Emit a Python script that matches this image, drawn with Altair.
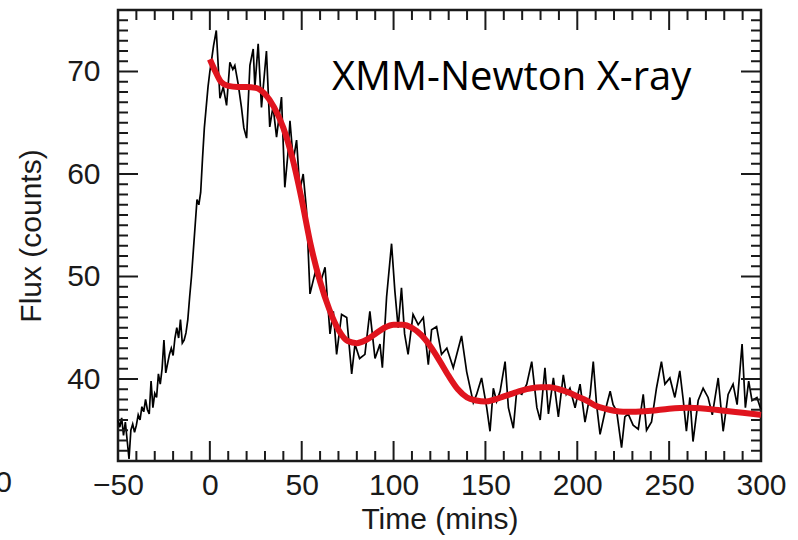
import altair as alt
import pandas as pd

# ---------------- data ----------------
time_obs = [-50, -49, -48, -47, -46, -45, -44, -43, -42, -41, -40, -39, -38, -37, -36, -35,
            -34, -33, -32, -31, -30, -29, -28, -27, -26, -25, -24, -23, -22, -21, -20, -19,
            -18, -17, -16, -15, -14, -13, -12, -11, -10, -9, -8, -7, -6, -5, -4, -3, -2, -1,
            0, 1, 2, 3.5, 5.5, 7.3, 9.1, 10.9, 12.5, 13.6, 15.4, 17.2, 18.5, 20, 21.8, 23.6,
            24.5, 26.3, 28.1, 30.8, 32.6, 34.4, 36.3, 39, 40.8, 42.5, 43.6, 45.4, 47.2, 49,
            50.8, 52.6, 54.5, 57.2, 60, 62.7, 65.4, 67.2, 69, 71.7, 74.5, 77.2, 79, 81.5,
            84.4, 87.1, 89.9, 92.6, 93.9, 96.2, 98.9, 100.7, 102.5, 104.3, 106, 107.9, 110.6,
            113.4, 116.2, 118.9, 120.7, 123.4, 126.1, 129, 132.5, 137, 139.8, 143.4, 145.2,
            147.9, 150.7, 152.5, 154.3, 156.1, 158, 160.7, 162.5, 165.2, 167, 169.8, 172.5,
            175.2, 178, 179.8, 182.4, 184.3, 187, 189.7, 192.4, 194, 196, 198.8, 201.5, 204.2,
            207, 208.7, 210.5, 212.4, 215.2, 217.9, 219.5, 221.4, 224.1, 225.9, 227.7, 230.4,
            233.2, 235.9, 237.7, 240.4, 243.1, 245.8, 247.7, 250.4, 253.1, 255.8, 257.7, 259.4,
            261.3, 263, 265.8, 268.5, 271.2, 273.5, 276.7, 279.4, 282.1, 284.8, 287, 289.7,
            291.5, 293.3, 295.1, 297.8, 300]
flux_obs = [36.0, 35.3, 36.2, 34.5, 35.8, 34.0, 32.2, 35.0, 35.6, 34.8, 35.5, 36.5, 36.0, 37.3,
            36.8, 38.0, 37.0, 36.6, 39.8, 37.2, 38.6, 38.2, 40.5, 39.5, 41.0, 43.8, 40.6, 41.5,
            42.4, 43.0, 42.3, 44.0, 45.0, 44.0, 45.8, 43.5, 43.8, 44.5, 45.8, 48.0, 50.0, 52.5,
            55.0, 57.5, 57.0, 58.2, 61.5, 64.5, 66.5, 68.5, 70.0, 71.2, 72.5, 74.0, 67.4, 68.5,
            66.7, 70.9, 70.2, 70.6, 68.8, 66.5, 64.5, 63.5, 70.6, 72.2, 68.5, 72.7, 66.5, 72.0,
            64.6, 66.6, 63.6, 67.5, 58.7, 62.0, 65.2, 61.3, 63.3, 58.4, 60.0, 56.5, 48.3, 50.3,
            49.3, 50.9, 44.4, 46.6, 42.4, 46.3, 46.0, 40.5, 43.4, 42.0, 42.4, 46.6, 42.0, 43.4,
            41.1, 48.0, 53.2, 48.6, 45.0, 48.9, 44.4, 42.4, 46.3, 45.3, 46.0, 41.4, 44.8, 45.1,
            42.4, 43.0, 41.1, 44.2, 40.7, 37.7, 38.5, 40.1, 37.2, 34.9, 39.1, 37.8, 38.8, 41.7,
            37.2, 35.2, 38.8, 38.5, 39.5, 41.7, 37.2, 36.0, 41.1, 36.6, 40.1, 36.3, 40.4, 38.5,
            39.1, 37.2, 39.5, 35.8, 38.5, 41.7, 37.5, 34.6, 36.9, 38.8, 37.5, 36.9, 33.3, 36.3,
            36.6, 35.5, 35.1, 38.5, 35.0, 35.8, 39.1, 41.7, 39.5, 40.1, 38.2, 40.8, 37.9, 34.9,
            38.2, 33.9, 37.9, 39.1, 38.2, 36.5, 40.1, 34.9, 38.5, 39.5, 37.5, 43.4, 37.2, 39.8,
            37.9, 38.2, 37.0]

time_fit = [0, 3, 6, 10, 15, 20, 25, 30, 35, 40, 45, 50, 55, 60, 65, 70, 75, 80, 85, 90, 95,
            100, 105, 110, 115, 120, 125, 130, 135, 140, 145, 150, 155, 160, 165, 170, 175,
            180, 185, 190, 195, 200, 205, 210, 215, 220, 225, 230, 240, 250, 260, 270, 280,
            290, 300]
flux_fit = [71.2, 70.0, 69.0, 68.6, 68.5, 68.5, 68.4, 67.8, 66.5, 64.5, 61.5, 57.5, 53.0, 49.5,
            46.8, 44.8, 43.7, 43.5, 43.8, 44.4, 45.0, 45.3, 45.3, 45.0, 44.3, 43.2, 41.8, 40.3,
            39.0, 38.2, 37.9, 37.8, 38.0, 38.3, 38.6, 38.9, 39.1, 39.2, 39.2, 39.0, 38.7, 38.3,
            37.9, 37.4, 37.1, 36.9, 36.8, 36.8, 36.9, 37.1, 37.2, 37.1, 36.9, 36.7, 36.5]

x_major = [-50, 0, 50, 100, 150, 200, 250, 300]
x_minor = [v for v in range(-40, 300, 10) if v % 50 != 0]
y_major = [40, 50, 60, 70]
y_minor = [v for v in range(33, 76) if v % 10 != 0]

x_title = "Time (mins)"
y_title = "Flux (counts)"
label_text = "XMM-Newton X-ray"

# ---------------- chart ----------------
W, H = 643, 451
FONT = "Liberation Sans"
INK = "#1a1a1a"

xs = alt.Scale(domain=[-50, 300], nice=False, zero=False)
ys = alt.Scale(domain=[32, 76], nice=False, zero=False)

x_axis = alt.Axis(
    values=x_major, title=x_title, grid=False, domain=False, ticks=False,
    labelFont=FONT, labelFontSize=30, labelColor=INK, labelPadding=9,
    titleFont=FONT, titleFontSize=30, titleFontWeight="normal", titleColor=INK,
    titlePadding=4, labelFlush=False)
y_axis = alt.Axis(
    values=y_major, title=y_title, grid=False, domain=False, ticks=False,
    labelFont=FONT, labelFontSize=30, labelColor=INK, labelPadding=18,
    titleFont=FONT, titleFontSize=30, titleFontWeight="normal", titleColor=INK,
    titlePadding=20, labelFlush=False)


def X():
    return alt.X("t:Q", scale=xs, axis=x_axis)


def Y():
    return alt.Y("f:Q", scale=ys, axis=y_axis)


obs = pd.DataFrame({"t": time_obs, "f": flux_obs})
fit = pd.DataFrame({"t": time_fit, "f": flux_fit})

black = alt.Chart(obs).mark_line(color="black", strokeWidth=1.7, strokeJoin="miter").encode(
    x=X(), y=Y())

red = alt.Chart(fit).mark_line(color="#e0141e", strokeWidth=6, interpolate="monotone").encode(
    x=X(), y=Y())


def xticks(vals, length):
    d = pd.DataFrame({"t": vals})
    base = alt.Chart(d).mark_rule(color=INK, strokeWidth=2)
    bot = base.encode(x=X(), y=alt.value(H), y2=alt.value(H - length))
    top = base.encode(x=X(), y=alt.value(0), y2=alt.value(length))
    return [bot, top]


def yticks(vals, length):
    d = pd.DataFrame({"f": vals})
    base = alt.Chart(d).mark_rule(color=INK, strokeWidth=2)
    left = base.encode(y=Y(), x=alt.value(0), x2=alt.value(length))
    right = base.encode(y=Y(), x=alt.value(W), x2=alt.value(W - length))
    return [left, right]


text = alt.Chart(pd.DataFrame({"s": [label_text]})).mark_text(
    font="Open Sans", fontSize=40, color="black", align="left", baseline="alphabetic"
).encode(x=alt.value(214), y=alt.value(80), text="s:N")

stray = alt.Chart(pd.DataFrame({"s": ["0"]})).mark_text(
    font=FONT, fontSize=30, color=INK, align="right", baseline="middle"
).encode(x=alt.value(-106), y=alt.value(H + 22), text="s:N")

layers = [black] + xticks(x_major, 20) + xticks(x_minor, 10) + yticks(y_major, 20) + \
    yticks(y_minor, 10) + [red, text, stray]

chart = alt.layer(*layers).properties(
    width=W, height=H,
    autosize=alt.AutoSizeParams(type="none"),
    padding={"left": 118, "top": 10, "right": 37, "bottom": 79},
    background="white",
).configure_view(stroke=INK, strokeWidth=2.5)

chart.save("out.html", embed_options={"renderer": "svg", "actions": False})
